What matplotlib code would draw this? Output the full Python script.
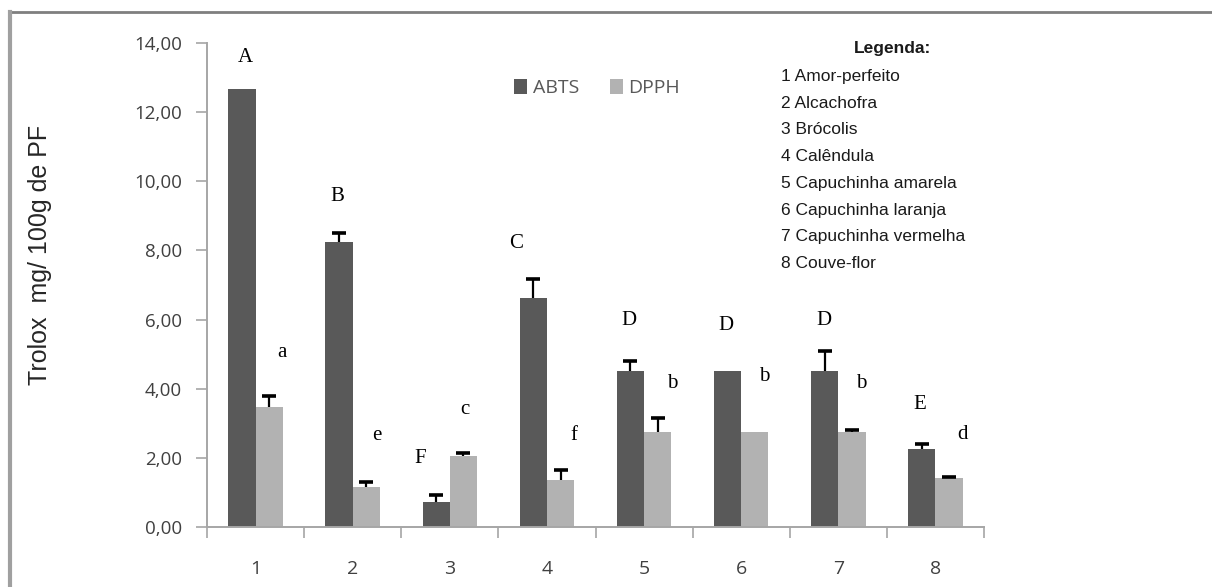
import matplotlib
matplotlib.use("Agg")
import matplotlib.pyplot as plt
from matplotlib import font_manager
from matplotlib.patches import Patch
from matplotlib.lines import Line2D
import numpy as np

# ---------------- data ----------------
categories = ["1", "2", "3", "4", "5", "6", "7", "8"]
abts = [12.68, 8.24, 0.72, 6.62, 4.51, 4.51, 4.51, 2.25]
abts_err = [0.0, 0.26, 0.20, 0.55, 0.28, 0.0, 0.58, 0.15]
dpph = [3.47, 1.16, 2.05, 1.36, 2.75, 2.75, 2.75, 1.42]
dpph_err = [0.32, 0.13, 0.09, 0.29, 0.40, 0.0, 0.07, 0.04]
abts_letters = ["A", "B", "F", "C", "D", "D", "D", "E"]
dpph_letters = ["a", "e", "c", "f", "b", "b", "b", "d"]
legend_title = "Legenda:"
legend_items = ["1 Amor-perfeito", "2 Alcachofra", "3 Brócolis", "4 Calêndula",
                "5 Capuchinha amarela", "6 Capuchinha laranja",
                "7 Capuchinha vermelha", "8 Couve-flor"]
yticks = [0, 2, 4, 6, 8, 10, 12, 14]
ylabel = "Trolox  mg/ 100g de PF"

# ---------------- label layout (not data) ----------------
abts_letter_y = [13.58, 9.57, 1.97, 8.20, 5.98, 5.84, 5.98, 3.53]
dpph_letter_y = [5.06, 2.66, 3.41, 2.66, 4.16, 4.34, 4.16, 2.69]
abts_letter_dx = [-0.10, -0.16, -0.31, -0.32, -0.16, -0.16, -0.15, -0.16]
dpph_letter_dx = [0.27, 0.25, 0.15, 0.28, 0.29, 0.24, 0.24, 0.28]

names = {f.name for f in font_manager.fontManager.ttflist}
narrow = "Liberation Sans Narrow" in names
tick_font = "Open Sans" if "Open Sans" in names else "DejaVu Sans"

W, H = 1212, 587
fig = plt.figure(figsize=(W / 100, H / 100), dpi=100)
fig.patch.set_facecolor("white")
ax = fig.add_axes([207 / W, 1 - 527 / H, (984 - 207) / W, (527 - 43) / H])

x = np.arange(1, len(categories) + 1)
bw = 0.28
dark = "#595959"
light = "#b2b2b2"
ax.bar(x - bw / 2, abts, bw, color=dark, zorder=2)
ax.bar(x + bw / 2, dpph, bw, color=light, zorder=2)


def upper_errorbars(xs, ys, errs):
    xs = np.asarray(xs, float)
    ys = np.asarray(ys, float)
    errs = np.asarray(errs, float)
    m = errs > 0
    if not m.any():
        return
    _, caps, _ = ax.errorbar(xs[m], ys[m], yerr=[np.zeros(m.sum()), errs[m]],
                             fmt="none", ecolor="black", elinewidth=1.6,
                             capsize=5, capthick=2.6, zorder=3)
    # hide the lower caps (sitting on the bar tops)
    if len(caps) == 2:
        caps[0].set_visible(False)


upper_errorbars(x - bw / 2, abts, abts_err)
upper_errorbars(x + bw / 2, dpph, dpph_err)

for i in range(len(x)):
    ax.text(x[i] + abts_letter_dx[i], abts_letter_y[i], abts_letters[i],
            family="Liberation Serif", fontsize=15, ha="center", va="center")
    ax.text(x[i] + dpph_letter_dx[i], dpph_letter_y[i], dpph_letters[i],
            family="Liberation Serif", fontsize=15, ha="center", va="center")

ax.set_xlim(0.5, len(categories) + 0.5)
ax.set_ylim(0, 14)
ax.set_yticks(yticks)
ax.set_yticklabels([f"{v:.2f}".replace(".", ",") for v in yticks],
                   family=tick_font, fontsize=13.5, color="#404040")
ax.set_xticks(x)
ax.set_xticklabels(categories, family=tick_font, fontsize=14, color="#404040")
ax.set_xticks(np.arange(0.5, len(categories) + 1, 1), minor=True)
ax.tick_params(axis="x", which="major", length=0, pad=24)
ax.tick_params(axis="x", which="minor", length=8, width=1.2, color="#a6a6a6")
ax.tick_params(axis="y", length=8, width=1.2, color="#a6a6a6", pad=10)
for s in ["top", "right"]:
    ax.spines[s].set_visible(False)
for s in ["left", "bottom"]:
    ax.spines[s].set_color("#a6a6a6")
    ax.spines[s].set_linewidth(1.4)

ax.set_ylabel(ylabel, family="Liberation Sans", fontsize=18, color="#262626")
ax.yaxis.set_label_coords(52 / W, 1 - 255 / H, transform=fig.transFigure)

handles = [Patch(facecolor=dark, label="ABTS"), Patch(facecolor=light, label="DPPH")]
leg = fig.legend(handles=handles, loc="center", bbox_to_anchor=(597 / W, 1 - 88 / H),
                 ncol=2, frameon=False, handlelength=0.65, handleheight=0.8,
                 handletextpad=0.3, columnspacing=1.6,
                 prop={"family": tick_font, "size": 14})
for t in leg.get_texts():
    t.set_color("#595959")

# text legend on the right
if narrow:
    lfam, lsize = "Liberation Sans Narrow", 15
else:
    lfam, lsize = "Liberation Sans", 12.5
fig.text(893 / W, 1 - 48 / H, legend_title, family=lfam, fontsize=lsize,
         fontweight="bold", ha="center", va="center", color="#1a1a1a")
for i, item in enumerate(legend_items):
    fig.text(781 / W, 1 - (76.5 + i * 26.7) / H, item, family=lfam, fontsize=lsize,
             ha="left", va="center", color="#1a1a1a")

# outer frame (top and left lines)
fig.add_artist(Line2D([10 / W, 1.0], [1 - 12 / H, 1 - 12 / H], transform=fig.transFigure,
                      color="#7f7f7f", linewidth=2))
fig.add_artist(Line2D([10 / W, 10 / W], [0.0, 1 - 12 / H], transform=fig.transFigure,
                      color="#a0a0a0", linewidth=3))

fig.savefig("out.png", dpi=100, facecolor="white")
